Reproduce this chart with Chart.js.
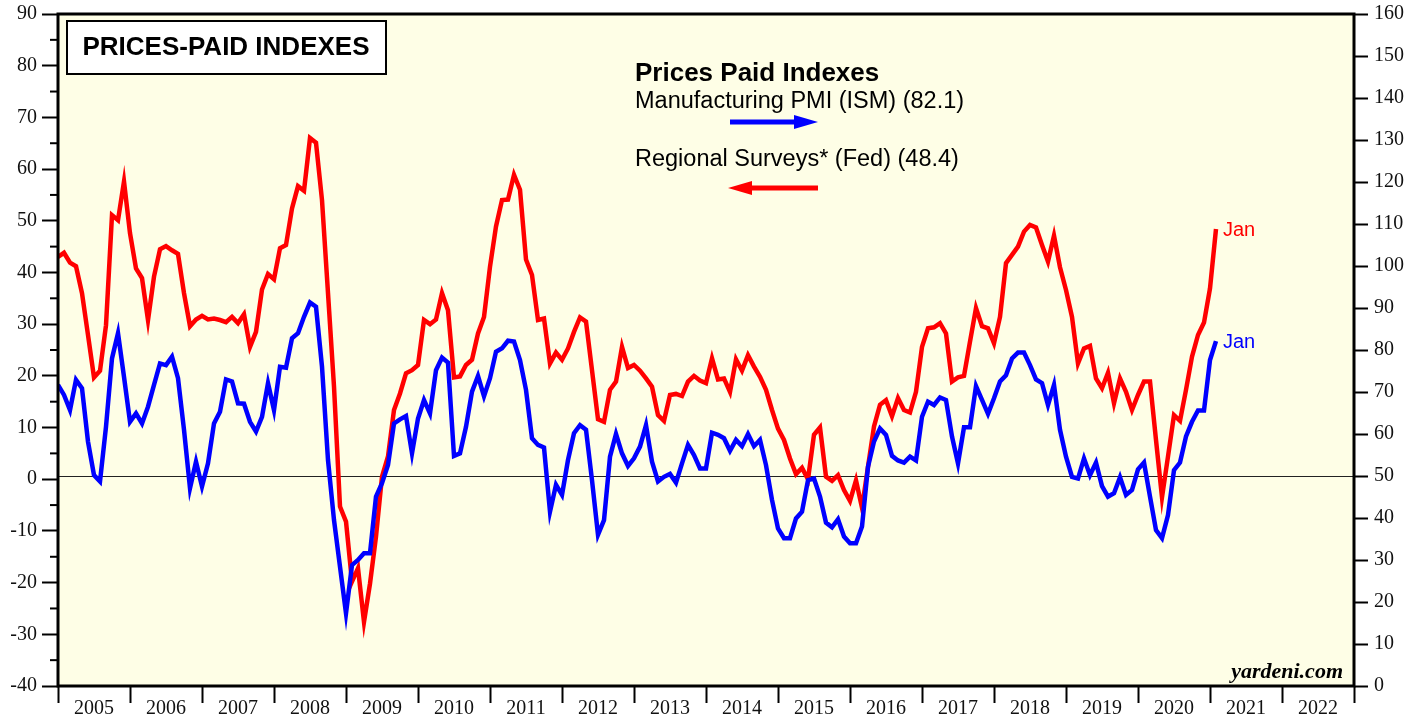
<!DOCTYPE html>
<html>
<head>
<meta charset="utf-8">
<title>Prices-Paid Indexes</title>
<script src="https://cdn.jsdelivr.net/npm/chart.js@4.4.0/dist/chart.umd.min.js"></script>
<style>
    html, body { margin: 0; padding: 0; background: #fff; }
    #wrap { width: 1424px; height: 717px; }
</style>
</head>
<body>
<div id="wrap"><canvas id="chart" width="1424" height="717"></canvas></div>
<script>
// monthly readings, first point Dec 2004, last point Jan 2021
var startYear = 2004;
var startMonth = 12;

// ISM manufacturing prices paid (right axis)
var ismPrices = [
    71.7, 69.3, 65.7, 72.9, 70.9, 58.2, 50.2, 48.7, 61.7, 78.0, 84.0, 73.6,
    62.9, 64.9, 62.5, 66.5, 71.7, 76.8, 76.4, 78.4, 73.3, 61.0, 47.1, 53.4,
    47.5, 53.0, 62.5, 65.3, 73.0, 72.5, 67.3, 67.2, 62.9, 60.6, 64.1, 72.1,
    65.7, 76.0, 75.8, 82.8, 84.0, 87.9, 91.3, 90.3, 76.0, 53.8, 39.5, 28.4,
    17.3, 28.8, 30.0, 31.6, 31.6, 45.1, 48.3, 52.6, 62.5, 63.5, 64.3, 55.4,
    63.7, 68.1, 64.9, 75.2, 78.2, 77.0, 54.8, 55.4, 61.7, 70.1, 73.8, 69.0,
    73.3, 79.6, 80.4, 82.2, 82.0, 77.6, 70.5, 59.0, 57.4, 56.8, 41.5, 47.9,
    45.5, 53.8, 60.2, 62.1, 61.0, 49.0, 36.0, 39.5, 54.6, 60.0, 55.4, 52.4,
    54.2, 57.0, 62.1, 53.4, 48.7, 49.8, 50.5, 48.4, 53.0, 57.4, 55.0, 51.8,
    51.8, 60.3, 59.8, 59.0, 56.0, 58.6, 57.1, 60.0, 57.1, 58.6, 52.6, 44.3,
    37.5, 35.2, 35.2, 39.9, 41.5, 49.0, 49.4, 45.1, 38.9, 37.8, 39.7, 35.6,
    34.0, 34.0, 38.0, 52.2, 58.2, 61.3, 59.8, 54.8, 53.7, 53.2, 54.6, 53.7,
    64.1, 67.7, 66.9, 68.7, 68.1, 59.4, 53.0, 61.6, 61.6, 71.4, 68.1, 64.8,
    68.5, 72.5, 74.0, 78.0, 79.4, 79.4, 76.4, 73.0, 72.1, 66.9, 71.7, 61.0,
    54.6, 49.8, 49.4, 54.2, 50.2, 53.2, 47.6, 45.1, 45.9, 49.7, 45.5, 46.7,
    51.6, 53.2, 45.1, 37.1, 35.2, 40.7, 51.4, 53.2, 59.4, 62.9, 65.6, 65.6,
    77.6, 82.1
];

// average of regional Fed surveys prices paid (left axis)
var fedPrices = [
    43.0, 43.8, 41.9, 41.2, 36.0, 27.9, 19.7, 21.0, 29.8, 51.1, 50.1, 57.6,
    47.6, 40.8, 38.9, 30.8, 39.2, 44.5, 45.1, 44.3, 43.6, 36.0, 29.6, 30.9,
    31.6, 30.9, 31.1, 30.8, 30.4, 31.4, 30.2, 31.9, 25.6, 28.5, 36.7, 39.7,
    38.7, 44.7, 45.3, 52.4, 56.7, 55.8, 66.0, 65.1, 54.0, 36.0, 17.9, -5.3,
    -8.2, -19.8, -17.2, -27.6, -20.2, -11.1, 0.5, 4.4, 13.4, 16.6, 20.5, 21.1,
    22.1, 30.8, 30.0, 30.9, 36.0, 32.7, 19.7, 19.9, 22.1, 23.1, 28.2, 31.4,
    41.1, 48.9, 54.0, 54.1, 58.9, 56.0, 42.5, 39.5, 30.8, 31.1, 22.4, 24.5,
    23.1, 25.3, 28.5, 31.3, 30.5, 21.1, 11.6, 11.1, 17.3, 18.9, 25.6, 21.5,
    22.1, 21.0, 19.5, 17.9, 12.4, 11.3, 16.3, 16.5, 16.1, 18.9, 20.0, 19.1,
    18.6, 23.4, 19.3, 19.5, 16.9, 23.2, 21.0, 24.0, 21.8, 19.8, 17.3, 13.4,
    9.8, 7.6, 4.0, 1.0, 2.2, 0.0, 8.6, 10.0, 0.5, -0.3, 0.8, -2.1,
    -4.2, -0.2, -5.5, 2.4, 10.2, 14.4, 15.3, 12.2, 15.7, 13.4, 12.9, 16.9,
    25.6, 29.2, 29.4, 30.2, 28.2, 18.9, 19.7, 20.0, 26.6, 33.1, 29.6, 29.2,
    26.3, 31.4, 41.8, 43.4, 45.0, 47.9, 49.2, 48.7, 45.3, 42.1, 47.1, 41.0,
    36.6, 31.4, 22.4, 25.3, 25.8, 19.5, 17.6, 20.6, 14.7, 19.5, 16.9, 13.4,
    16.3, 18.9, 18.9, 7.6, -3.5, 4.4, 12.4, 11.3, 17.3, 23.7, 27.9, 30.3,
    36.9, 48.4
];

var yearLabels = ['2005', '2006', '2007', '2008', '2009', '2010', '2011', '2012', '2013',
    '2014', '2015', '2016', '2017', '2018', '2019', '2020', '2021', '2022'];
var leftMin = -40, leftMax = 90;
var rightMin = 0, rightMax = 160;
var ismBreakEven = 50;

function toPoints(values) {
    var pts = [];
    values.forEach(function (v, i) {
        pts.push({ x: startYear + (startMonth + i) / 12, y: v });
    });
    return pts;
}

var serif = 'Liberation Serif';
var sans = 'Liberation Sans';

// y axes: no extra room for the end labels, the frame sits at fixed px
function fitY(width) {
    return function (scale) {
        scale.width = width;
        scale.paddingTop = 0;
        scale.paddingBottom = 0;
    };
}

var decorations = {
    id: 'decorations',
    beforeDraw: function (chart) {
        var ctx = chart.ctx, a = chart.chartArea;
        ctx.save();
        ctx.fillStyle = '#ffffff';
        ctx.fillRect(0, 0, chart.width, chart.height);
        ctx.fillStyle = '#fefee6';
        ctx.fillRect(a.left, a.top, a.right - a.left, a.bottom - a.top);
        ctx.restore();
    },
    beforeDatasetsDraw: function (chart) {
        // 50 line of the ISM index
        var ctx = chart.ctx, a = chart.chartArea;
        var y = Math.round(chart.scales.y1.getPixelForValue(ismBreakEven)) + 0.5;
        ctx.save();
        ctx.strokeStyle = '#222';
        ctx.lineWidth = 1;
        ctx.beginPath();
        ctx.moveTo(a.left, y);
        ctx.lineTo(a.right, y);
        ctx.stroke();
        ctx.restore();
    },
    afterDraw: function (chart) {
        var ctx = chart.ctx, a = chart.chartArea;
        var xs = chart.scales.x, yl = chart.scales.y, yr = chart.scales.y1;
        ctx.save();

        // minor ticks on the left axis
        ctx.strokeStyle = '#000';
        ctx.lineWidth = 2;
        for (var v = leftMin + 5; v < leftMax; v += 10) {
            var ty = yl.getPixelForValue(v);
            ctx.beginPath();
            ctx.moveTo(a.left - 8, ty);
            ctx.lineTo(a.left, ty);
            ctx.stroke();
        }

        // frame
        ctx.lineWidth = 3;
        ctx.strokeRect(a.left, a.top, a.right - a.left, a.bottom - a.top);

        // title box
        ctx.fillStyle = '#fff';
        ctx.fillRect(67, 21, 319, 53);
        ctx.lineWidth = 2;
        ctx.strokeRect(67, 21, 319, 53);
        ctx.fillStyle = '#000';
        ctx.font = 'bold 26px ' + sans;
        ctx.textAlign = 'center';
        ctx.textBaseline = 'middle';
        ctx.fillText('PRICES-PAID INDEXES', 226, 48);

        // legend
        ctx.textAlign = 'left';
        ctx.textBaseline = 'alphabetic';
        ctx.font = 'bold 26px ' + sans;
        ctx.fillText('Prices Paid Indexes', 635, 81);
        ctx.font = '23.5px ' + sans;
        ctx.fillText('Manufacturing PMI (ISM) (82.1)', 635, 108);
        ctx.fillText('Regional Surveys* (Fed) (48.4)', 635, 166);

        // arrows
        ctx.lineWidth = 5;
        ctx.strokeStyle = '#0000ff';
        ctx.fillStyle = '#0000ff';
        ctx.beginPath();
        ctx.moveTo(730, 122);
        ctx.lineTo(798, 122);
        ctx.stroke();
        ctx.beginPath();
        ctx.moveTo(818, 122);
        ctx.lineTo(794, 115);
        ctx.lineTo(794, 129);
        ctx.closePath();
        ctx.fill();

        ctx.strokeStyle = '#ff0000';
        ctx.fillStyle = '#ff0000';
        ctx.beginPath();
        ctx.moveTo(748, 188);
        ctx.lineTo(818, 188);
        ctx.stroke();
        ctx.beginPath();
        ctx.moveTo(728, 188);
        ctx.lineTo(752, 181);
        ctx.lineTo(752, 195);
        ctx.closePath();
        ctx.fill();

        // last month labels
        var lastX = xs.getPixelForValue(startYear + (startMonth + fedPrices.length - 1) / 12);
        ctx.font = '20px ' + sans;
        ctx.textBaseline = 'middle';
        ctx.fillStyle = '#ff0000';
        ctx.fillText('Jan', lastX + 7, yl.getPixelForValue(fedPrices[fedPrices.length - 1]) + 1);
        ctx.fillStyle = '#0000ff';
        ctx.fillText('Jan', lastX + 7, yr.getPixelForValue(ismPrices[ismPrices.length - 1]) + 1);

        // source
        ctx.fillStyle = '#000';
        ctx.textAlign = 'right';
        ctx.textBaseline = 'alphabetic';
        ctx.font = 'italic bold 22px ' + serif;
        ctx.fillText('yardeni.com', 1343, 678);

        ctx.restore();
    }
};

var ctx = document.getElementById('chart').getContext('2d');
var myChart = new Chart(ctx, {
    type: 'line',
    data: {
        datasets: [
            {
                label: 'Manufacturing PMI (ISM)',
                data: toPoints(ismPrices),
                yAxisID: 'y1',
                borderColor: '#0000ff',
                borderWidth: 4.5,
                pointRadius: 0,
                tension: 0,
                fill: false
            },
            {
                label: 'Regional Surveys (Fed)',
                data: toPoints(fedPrices),
                yAxisID: 'y',
                borderColor: '#ff0000',
                borderWidth: 4.5,
                pointRadius: 0,
                tension: 0,
                fill: false
            }
        ]
    },
    options: {
        responsive: false,
        animation: false,
        events: [],
        layout: { padding: { top: 14, left: 0, right: 0, bottom: 0 } },
        plugins: {
            legend: { display: false },
            tooltip: { enabled: false },
            title: { display: false }
        },
        scales: {
            x: {
                type: 'linear',
                position: 'bottom',
                min: 2005,
                max: 2023,
                afterFit: function (scale) {
                    scale.height = 31;
                    scale.paddingLeft = 0;
                    scale.paddingRight = 0;
                },
                border: { display: false },
                grid: {
                    drawOnChartArea: false,
                    drawTicks: true,
                    tickLength: 17,
                    tickWidth: 2,
                    tickColor: '#000'
                },
                ticks: {
                    stepSize: 1,
                    autoSkip: false,
                    maxRotation: 0,
                    labelOffset: 36,
                    padding: -6,
                    color: '#111',
                    font: { family: serif, size: 20 },
                    callback: function (value) {
                        var idx = Math.round(value) - 2005;
                        return yearLabels[idx] || '';
                    }
                }
            },
            y: {
                position: 'left',
                min: leftMin,
                max: leftMax,
                afterFit: fitY(58),
                border: { display: false },
                grid: {
                    drawOnChartArea: false,
                    drawTicks: true,
                    tickLength: 16,
                    tickWidth: 2,
                    tickColor: '#000'
                },
                ticks: {
                    stepSize: 10,
                    padding: 5,
                    color: '#111',
                    font: { family: serif, size: 20 }
                }
            },
            y1: {
                position: 'right',
                min: rightMin,
                max: rightMax,
                afterFit: fitY(70),
                border: { display: false },
                grid: {
                    drawOnChartArea: false,
                    drawTicks: true,
                    tickLength: 14,
                    tickWidth: 2,
                    tickColor: '#000'
                },
                ticks: {
                    stepSize: 10,
                    padding: 6,
                    color: '#111',
                    font: { family: serif, size: 20 }
                }
            }
        }
    },
    plugins: [decorations]
});
</script>
</body>
</html>
